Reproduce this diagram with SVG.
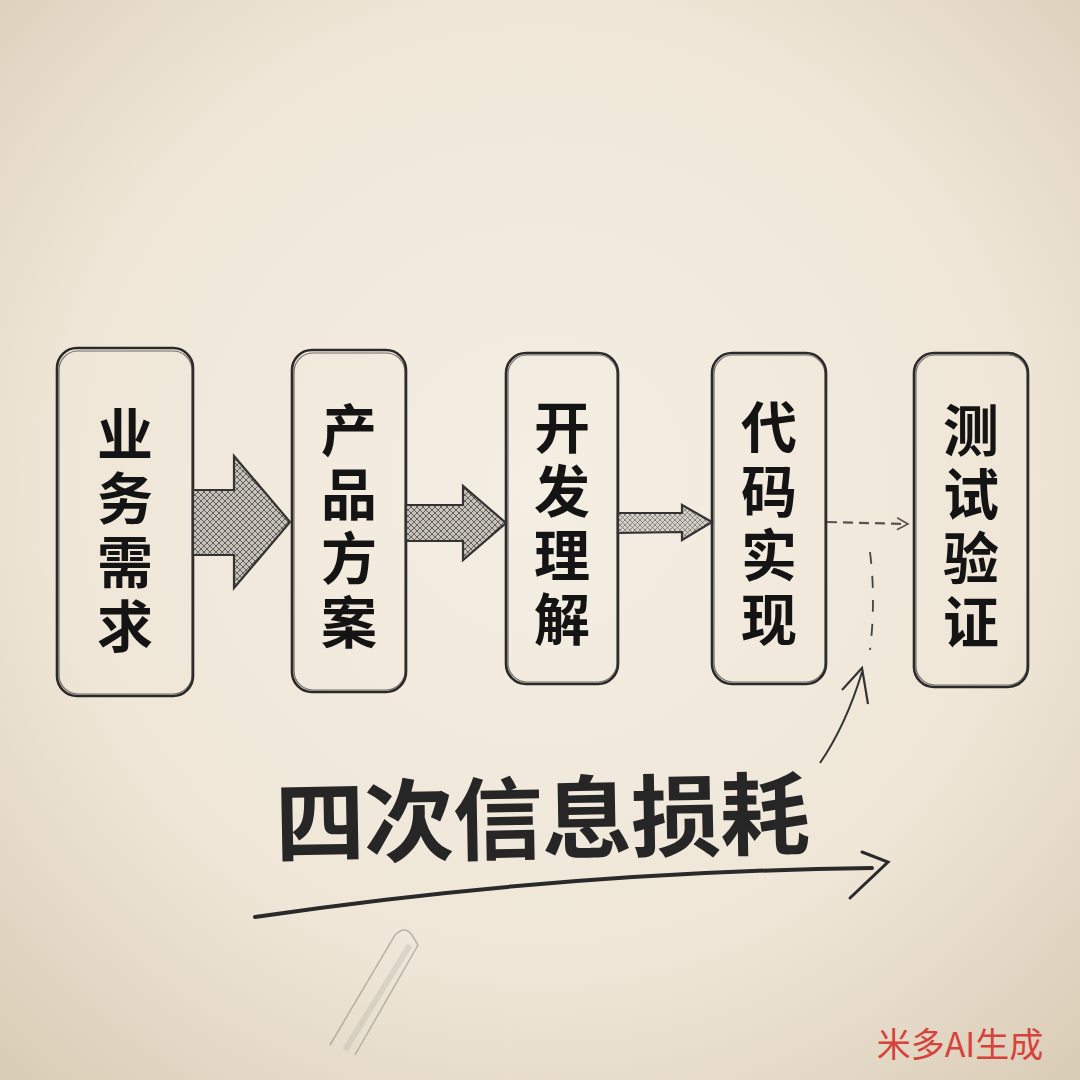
<svg xmlns="http://www.w3.org/2000/svg" width="1080" height="1080" viewBox="0 0 1080 1080">
<defs>
<radialGradient id="bg" cx="50%" cy="45%" r="75%">
<stop offset="0" stop-color="#f4eee3"/>
<stop offset="0.6" stop-color="#efe6d7"/>
<stop offset="1" stop-color="#d9ccb6"/>
</radialGradient>
<pattern id="hatch" width="6" height="6" patternUnits="userSpaceOnUse">
<rect width="6" height="6" fill="#c9c2b8"/>
<path d="M0,0 L6,6 M6,0 L0,6" stroke="#555" stroke-width="0.9"/>
</pattern>
<pattern id="hatch2" width="5" height="5" patternUnits="userSpaceOnUse">
<rect width="5" height="5" fill="#d6d0c7"/>
<path d="M0,0 L5,5 M5,0 L0,5" stroke="#6a6a6a" stroke-width="0.7"/>
</pattern>
<marker id="open" markerWidth="14" markerHeight="14" refX="12" refY="7" orient="auto" markerUnits="userSpaceOnUse">
<path d="M1,1 L12,7 L1,13" fill="none" stroke="#555" stroke-width="1.6"/>
</marker>
<style>
.box{fill:none;stroke:#2a2a2a;stroke-width:2.6}
.box2{fill:none;stroke:#3a3a3a;stroke-width:1.2;opacity:0.7}
.lbl{font-family:"Noto Sans CJK SC","Noto Sans CJK TC",sans-serif;font-weight:700;font-size:56px;fill:#141414;text-anchor:middle;writing-mode:vertical-rl;letter-spacing:8px}
.blk{stroke:#333;stroke-width:2.2;stroke-linejoin:miter}
</style>
</defs>
<rect width="1080" height="1080" fill="url(#bg)"/>

<g id="node-1">
<rect class="box" x="57" y="348" width="136" height="348" rx="20"/>
<rect class="box2" x="59" y="351" width="133" height="343" rx="19"/>
<text class="lbl" x="125" y="534">业务需求</text>
</g>
<g id="node-2">
<rect class="box" x="292" y="350" width="114" height="342" rx="20"/>
<rect class="box2" x="294" y="353" width="111" height="337" rx="19"/>
<text class="lbl" x="349" y="530">产品方案</text>
</g>
<g id="node-3">
<rect class="box" x="506" y="353" width="112" height="331" rx="20"/>
<rect class="box2" x="508" y="355" width="109" height="327" rx="19"/>
<text class="lbl" x="562" y="527">开发理解</text>
</g>
<g id="node-4">
<rect class="box" x="712" y="353" width="114" height="331" rx="20"/>
<rect class="box2" x="714" y="355" width="111" height="327" rx="19"/>
<text class="lbl" x="769" y="527">代码实现</text>
</g>
<g id="node-5">
<rect class="box" x="914" y="353" width="114" height="334" rx="20"/>
<rect class="box2" x="916" y="355" width="111" height="330" rx="19"/>
<text class="lbl" x="971" y="530">测试验证</text>
</g>

<g id="connectors">
<path class="blk" fill="url(#hatch)" d="M193,490 L234,490 L234,456 L290,522 L234,588 L234,555 L193,555 Z"/>
<path class="blk" fill="url(#hatch)" d="M406,505 L463,505 L463,486 L506,523 L463,560 L463,541 L406,541 Z"/>
<path class="blk" fill="url(#hatch2)" stroke-width="1.6" d="M618,513 L682,513 L682,505 L712,522 L682,540 L682,532 L618,533 Z"/>
<path d="M827,522 L908,524" fill="none" stroke="#555" stroke-width="2.2" stroke-dasharray="10,6" marker-end="url(#open)"/>
<path d="M870,552 Q876,600 870,650" fill="none" stroke="#444" stroke-width="1.8" stroke-dasharray="12,12"/>
<path d="M820,763 Q846,725 862,672" fill="none" stroke="#333" stroke-width="2"/>
<path d="M842,690 L862,668 L868,704" fill="none" stroke="#333" stroke-width="2.2"/>
<path d="M255,917 Q560,872 872,868" fill="none" stroke="#2a2a2a" stroke-width="4" stroke-linecap="round"/>
<path d="M862,852 L888,862 L850,898" fill="none" stroke="#2a2a2a" stroke-width="3" stroke-linecap="round"/>
</g>

<text x="542" y="852" font-family="Noto Sans CJK SC,sans-serif" font-weight="700" font-size="90" fill="#262626" text-anchor="middle" letter-spacing="-1" transform="rotate(-1 540 820)">四次信息损耗</text>

<g id="pencil" opacity="0.45">
<path d="M330,1045 L395,935 Q405,925 412,935 L418,945 L355,1055" fill="none" stroke="#777" stroke-width="1.5"/>
<path d="M345,1050 L410,945" fill="none" stroke="#999" stroke-width="6" opacity="0.5"/>
</g>

<text x="960" y="1057" font-family="Noto Sans CJK SC,sans-serif" font-size="34" fill="#d6423c" text-anchor="middle">米多AI生成</text>
</svg>
